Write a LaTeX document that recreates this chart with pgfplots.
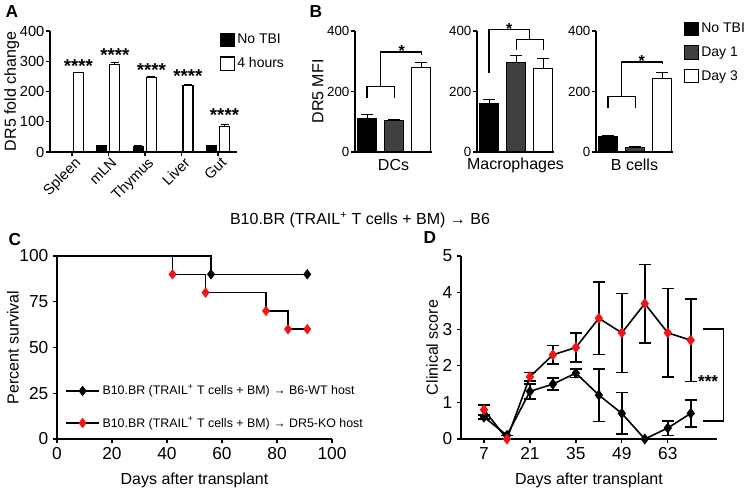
\documentclass[border=0pt]{standalone}
\usepackage{fontspec}
\setmainfont{Liberation Sans}
\usepackage{pgfplots}
\pgfplotsset{compat=1.18}
\definecolor{dgray}{RGB}{64,64,64}
\definecolor{kmred}{RGB}{240,20,20}
\newcommand{\fs}[1]{\fontsize{#1}{#1}\selectfont}
\pgfplotsset{
  base/.style={scale only axis, axis lines=left, axis line style={-, line width=1pt},
    tick align=outside, major tick length=3pt, tick style={line width=1pt, black},
    /pgf/number format/assume math mode=true, clip=false, anchor=south west},
  barlegend/.style={legend image code/.code={\draw[##1, line width=0.8pt] (0pt,-5pt) rectangle (10pt,5pt);}},
  ylab/.style={every axis y label/.style={at={(axis description cs:#1,0.5)}, rotate=90, anchor=center, font=\fs{12}}},
  xlab/.style={every axis x label/.style={at={(axis description cs:0.5,#1)}, anchor=center, font=\fs{12}}},
  eb/.style={error bars/.cd, y dir=plus, y explicit, error bar style={line width=0.8pt, black},
    error mark options={rotate=90, mark size=#1, line width=0.8pt, black}},
}
\begin{document}
\begin{tikzpicture}
\path[use as bounding box] (0,0) rectangle (562.5pt,370.5pt);
% panel labels
\node[font=\bfseries\fs{13}] at (9pt,361.5pt) {A};
\node[font=\bfseries\fs{13}] at (237pt,361.5pt) {B};
\node[font=\bfseries\fs{13}] at (11.25pt,190.5pt) {C};
\node[font=\bfseries\fs{13}] at (322.5pt,192pt) {D};
\node[font=\fs{12}] at (270pt,205.5pt) {B10.BR (TRAIL\textsuperscript{+} T cells + BM) → B6};

% ---------------- Panel A
\begin{axis}[base, at={(37.5pt,256.5pt)}, width=140.25pt, height=90.75pt,
  xmin=-0.6, xmax=4.52, ymin=0, ymax=400, ytick={0,100,200,300,400},
  xtick={0,...,4}, xticklabels={Spleen,mLN,Thymus,Liver,Gut},
  xticklabel style={rotate=45, anchor=north east, font=\fs{11}, inner sep=1pt, xshift=2pt},
  yticklabel style={font=\fs{11}, inner sep=1pt},
  ylabel={DR5 fold change}, ylab=-0.205,
  barlegend,
  legend style={at={(0.909,1.0)}, anchor=north west, draw=none, fill=none, font=\fs{10.5},
    row sep=5pt, inner sep=0pt, cells={anchor=west}}]
\addplot[ybar, bar width=0.274, bar shift=0, fill=black, draw=black, line width=0.8pt, eb=3pt]
  coordinates {(-0.178,1) +- (0,1) (0.822,20) +- (0,2) (1.822,18) +- (0,2) (2.822,2) +- (0,1) (3.822,20) +- (0,2)};
\addplot[ybar, bar width=0.274, bar shift=0, fill=white, draw=black, line width=0.8pt, eb=3pt]
  coordinates {(0.178,262) +- (0,2) (1.178,290) +- (0,7) (2.178,245) +- (0,3) (3.178,221) +- (0,2) (4.178,85) +- (0,7)};
\legend{No TBI, 4 hours}
\node[font=\bfseries\fs{14}, anchor=base] at (axis cs:0.178,264) {****};
\node[font=\bfseries\fs{14}, anchor=base] at (axis cs:1.178,298) {****};
\node[font=\bfseries\fs{14}, anchor=base] at (axis cs:2.178,250) {****};
\node[font=\bfseries\fs{14}, anchor=base] at (axis cs:3.178,230) {****};
\node[font=\bfseries\fs{14}, anchor=base] at (axis cs:4.178,102) {****};
\end{axis}

% ---------------- Panel B: DCs
\begin{axis}[base, at={(266.25pt,256.5pt)}, width=57.75pt, height=90.75pt,
  xmin=-0.45, xmax=2.4, ymin=0, ymax=400, ytick={0,200,400}, xtick=\empty,
  yticklabel style={font=\fs{10}, inner sep=1pt},
  xlabel={DCs}, xlab=-0.107,
  ylabel={DR5 MFI}, ylab=-0.48]
\addplot[ybar, bar width=0.7, bar shift=0, fill=black, draw=black, line width=0.8pt, eb=4.5pt]
  coordinates {(0,110) +- (0,14)};
\addplot[ybar, bar width=0.7, bar shift=0, fill=dgray, draw=black, line width=0.8pt, eb=4.5pt]
  coordinates {(1,103) +- (0,5)};
\addplot[ybar, bar width=0.7, bar shift=0, fill=white, draw=black, line width=0.8pt, eb=4.5pt]
  coordinates {(2,279) +- (0,17)};
\draw[line width=1pt] (axis cs:0,177) -- (axis cs:0,216) -- (axis cs:1,216) -- (axis cs:1,177);
\draw[line width=1pt] (axis cs:0.5,216) -- (axis cs:0.5,331) -- (axis cs:2,331) -- (axis cs:2,322);
\node[font=\bfseries\fs{12}, anchor=base] at (axis cs:1.28,315) {*};
\end{axis}

% ---------------- Panel B: Macrophages
\begin{axis}[base, at={(357.75pt,256.5pt)}, width=57.75pt, height=90.75pt,
  xmin=-0.45, xmax=2.4, ymin=0, ymax=400, ytick={0,200,400}, xtick=\empty,
  yticklabel style={font=\fs{10}, inner sep=1pt},
  xlabel={Macrophages}, xlab=-0.107]
\addplot[ybar, bar width=0.7, bar shift=0, fill=black, draw=black, line width=0.8pt, eb=4.5pt]
  coordinates {(0,161) +- (0,13)};
\addplot[ybar, bar width=0.7, bar shift=0, fill=dgray, draw=black, line width=0.8pt, eb=4.5pt]
  coordinates {(1,295) +- (0,23)};
\addplot[ybar, bar width=0.7, bar shift=0, fill=white, draw=black, line width=0.8pt, eb=4.5pt]
  coordinates {(2,277) +- (0,33)};
\draw[line width=1pt] (axis cs:1,337) -- (axis cs:1,372) -- (axis cs:2,372) -- (axis cs:2,337);
\draw[line width=1pt] (axis cs:0,261) -- (axis cs:0,405) -- (axis cs:1.5,405) -- (axis cs:1.5,372);
\node[font=\bfseries\fs{12}, anchor=base] at (axis cs:0.74,389) {*};
\end{axis}

% ---------------- Panel B: B cells
\begin{axis}[base, at={(447pt,256.5pt)}, width=57.75pt, height=90.75pt,
  xmin=-0.45, xmax=2.4, ymin=0, ymax=400, ytick={0,200,400}, xtick=\empty,
  yticklabel style={font=\fs{10}, inner sep=1pt},
  xlabel={B cells}, xlab=-0.107,
  barlegend,
  legend style={at={(1.143,1.09)}, anchor=north west, draw=none, fill=none, font=\fs{10.5},
    row sep=5pt, inner sep=0pt, cells={anchor=west}}]
\addplot[ybar, bar width=0.7, bar shift=0, fill=black, draw=black, line width=0.8pt, eb=4.5pt]
  coordinates {(0,51) +- (0,2)};
\addplot[ybar, bar width=0.7, bar shift=0, fill=dgray, draw=black, line width=0.8pt, eb=4.5pt]
  coordinates {(1,15) +- (0,2)};
\addplot[ybar, bar width=0.7, bar shift=0, fill=white, draw=black, line width=0.8pt, eb=4.5pt]
  coordinates {(2,244) +- (0,18)};
\legend{No TBI, Day 1, Day 3}
\draw[line width=1pt] (axis cs:0,144) -- (axis cs:0,183) -- (axis cs:1,183) -- (axis cs:1,144);
\draw[line width=1pt] (axis cs:0.5,183) -- (axis cs:0.5,298) -- (axis cs:2,298) -- (axis cs:2,290);
\node[font=\bfseries\fs{12}, anchor=base] at (axis cs:1.24,282) {*};
\end{axis}

% ---------------- Panel C
\begin{axis}[base, at={(42.75pt,41.25pt)}, width=206.25pt, height=137.25pt,
  xmin=0, xmax=100, ymin=0, ymax=100, xtick={0,20,...,100}, ytick={0,25,...,100},
  ticklabel style={font=\fs{13}},
  xlabel={Days after transplant}, xlab=-0.224,
  ylabel={Percent survival}, ylab=-0.16,
  legend image code/.code={\draw[black, line width=1.2pt, mark=none] (0pt,0pt) -- (24.75pt,0pt); \draw[#1] plot coordinates {(12.4pt,0pt)};},
  legend style={at={(0.029,0.175)}, anchor=west, draw=none, fill=none, font=\fs{9.3},
    row sep=11pt, inner sep=0pt, cells={anchor=west}}]
\addplot[const plot, black, line width=1.2pt, forget plot] coordinates {(0,100) (56,90) (91,90)};
\addplot[const plot, black, line width=1.2pt, forget plot] coordinates {(0,100) (42,90) (54,80) (76,70) (84,60) (91,60)};
\addplot[only marks, mark=diamond*, mark size=3.6pt, black, fill=black] coordinates {(56,90) (91,90)};
\addplot[only marks, mark=diamond*, mark size=3.6pt, kmred, fill=kmred] coordinates {(42,90) (54,80) (76,70) (84,60) (91,60)};
\legend{B10.BR (TRAIL\textsuperscript{+} T cells + BM) → B6-WT host, B10.BR (TRAIL\textsuperscript{+} T cells + BM) → DR5-KO host}
\end{axis}

% ---------------- Panel D
\begin{axis}[base, at={(345.75pt,41.25pt)}, width=192pt, height=137.25pt,
  xmin=0, xmax=78, ymin=0, ymax=5, xtick={7,21,35,49,63}, ytick={0,...,5},
  ticklabel style={font=\fs{13}},
  xlabel={Days after transplant}, xlab=-0.224,
  ylabel={Clinical score}, ylab=-0.113]
\addplot[black, line width=1.2pt, mark=diamond*, mark size=3.2pt, mark options={fill=black, draw=black},
  error bars/.cd, y dir=both, y explicit, error bar style={line width=1.2pt, black}, error mark options={rotate=90, line width=1.2pt, mark size=4.5pt, black}]
  coordinates {(7,0.6) +- (0,0.05) (14,0.1) +- (0,0) (21,1.3) +- (0,0.2) (28,1.5) +- (0,0.16) (35,1.8) +- (0,0.12)
  (42,1.2) +- (0,0.72) (49,0.7) +- (0,0.57) (56,0) +- (0,0) (63,0.3) +- (0,0.2) (70,0.7) +- (0,0.37)};
\addplot[black, line width=1.2pt, mark=diamond*, mark size=3.2pt, mark options={fill=kmred, draw=kmred},
  error bars/.cd, y dir=both, y explicit, error bar style={line width=1.2pt, black}, error mark options={rotate=90, line width=1.2pt, mark size=4.5pt, black}]
  coordinates {(7,0.8) +- (0,0.13) (14,0) +- (0,0) (21,1.7) +- (0,0.12) (28,2.3) +- (0,0.25) (35,2.5) +- (0,0.39)
  (42,3.3) +- (0,0.99) (49,2.9) +- (0,1.08) (56,3.7) +- (0,1.07) (63,2.9) +- (0,1.21) (70,2.7) +- (0,1.13)};
\draw[line width=1.2pt] (axis cs:73.6,3) -- (axis cs:80,3) -- (axis cs:80,0.5) -- (axis cs:73.6,0.5);
\node[font=\bfseries\fs{13}, anchor=base] at (axis cs:75.3,1.4) {***};
\end{axis}
\end{tikzpicture}
\end{document}
